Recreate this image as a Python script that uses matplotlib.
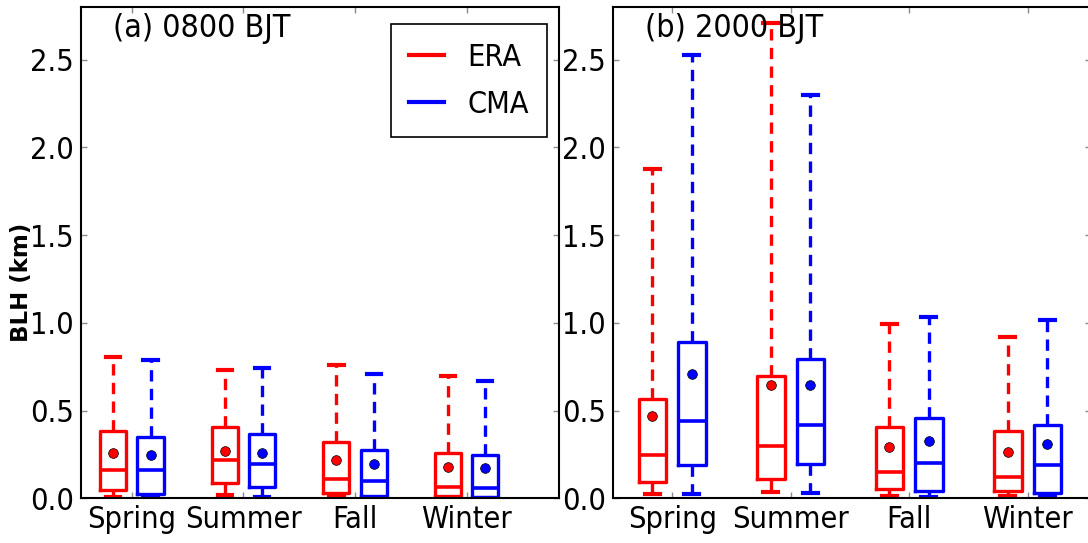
"""BLH box plots — ERA vs CMA by season, 0800 and 2000 BJT"""
import matplotlib
matplotlib.use("Agg")  # no display
import matplotlib.pyplot as plt
from matplotlib.lines import Line2D

plt.rcParams["font.family"] = ["DejaVu Sans"]
plt.rcParams["font.stretch"] = "condensed"

seasons = ["Spring", "Summer", "Fall", "Winter"]
sources = ["ERA", "CMA"]
panel_titles = ["(a) 0800 BJT", "(b) 2000 BJT"]

# per season: lower whisker, Q1, median, Q3, upper whisker, mean (km)
STAT_KEYS = ["whislo", "q1", "med", "q3", "whishi", "mean"]

era_0800 = [
    [0.010, 0.051, 0.162, 0.382, 0.805, 0.258],
    [0.017, 0.087, 0.217, 0.405, 0.730, 0.273],
    [0.010, 0.030, 0.112, 0.320, 0.760, 0.217],
    [0.005, 0.013, 0.068, 0.260, 0.700, 0.182],
]
cma_0800 = [
    [0.008, 0.027, 0.160, 0.353, 0.790, 0.245],
    [0.008, 0.064, 0.197, 0.369, 0.745, 0.258],
    [0.003, 0.012, 0.099, 0.279, 0.712, 0.197],
    [0.003, 0.008, 0.061, 0.249, 0.670, 0.175],
]
era_2000 = [
    [0.027, 0.093, 0.250, 0.568, 1.879, 0.472],
    [0.036, 0.112, 0.300, 0.700, 2.710, 0.644],
    [0.013, 0.055, 0.152, 0.405, 0.994, 0.292],
    [0.013, 0.042, 0.121, 0.383, 0.920, 0.267],
]
cma_2000 = [
    [0.027, 0.189, 0.439, 0.892, 2.527, 0.712],
    [0.032, 0.197, 0.420, 0.794, 2.300, 0.648],
    [0.010, 0.042, 0.203, 0.458, 1.036, 0.326],
    [0.010, 0.032, 0.189, 0.420, 1.017, 0.310],
]

COLORS = ["red", "blue"]


def make_stats(rows):
    return [dict(zip(STAT_KEYS, r)) for r in rows]


def draw_panel(ax, era_rows, cma_rows, title, xlim):
    for k, (rows, color) in enumerate(zip([era_rows, cma_rows], COLORS)):
        positions = [3 * i + 1 + k for i in range(len(seasons))]
        ax.bxp(
            make_stats(rows),
            positions=positions,
            widths=0.7,
            capwidths=0.38,
            showmeans=True,
            showfliers=False,
            manage_ticks=False,
            boxprops=dict(color=color, linewidth=2.4),
            whiskerprops=dict(color=color, linewidth=2.4, linestyle=(0, (3.4, 2.2))),
            capprops=dict(color=color, linewidth=3.0),
            medianprops=dict(color=color, linewidth=2.6),
            meanprops=dict(marker="o", markerfacecolor=color, markeredgecolor="k",
                           markeredgewidth=0.5, markersize=7),
        )

    ax.set_xticks([3 * i + 1.5 for i in range(len(seasons))])
    ax.set_xticklabels(seasons)
    ax.set_xlim(*xlim)
    ax.set_ylim(0, 2.8)
    ax.set_yticks([0.0, 0.5, 1.0, 1.5, 2.0, 2.5])
    ax.set_yticklabels(["0.0", "0.5", "1.0", "1.5", "2.0", "2.5"])
    ax.tick_params(direction="in", top=True, right=True, length=4, width=1,
                   color="0.55", labelsize=22, pad=5)
    for s in ax.spines.values():
        s.set_linewidth(1.5)
    ax.text(0.067, 0.988, title, transform=ax.transAxes, ha="left", va="top", fontsize=23)


fig = plt.figure(figsize=(10.88, 5.43), dpi=100)
ax_a = fig.add_axes([0.0744, 0.082, 0.4393, 0.905])
ax_b = fig.add_axes([0.5634, 0.082, 0.4393, 0.905])

draw_panel(ax_a, era_0800, cma_0800, panel_titles[0], (0.13, 12.98))
draw_panel(ax_b, era_2000, cma_2000, panel_titles[1], (0.0, 12.1))

ax_a.set_ylabel("BLH (km)", fontsize=16.5, fontweight="bold", fontstretch="normal")
ax_a.yaxis.set_label_coords(-0.1, 0.44)

handles = [Line2D([], [], color=c, linewidth=3) for c in COLORS]
leg = ax_a.legend(handles, sources, loc="upper right", bbox_to_anchor=(0.975, 0.965),
                  borderaxespad=0, fontsize=22, handlelength=1.15, handletextpad=0.75,
                  labelspacing=0.6, borderpad=0.6, fancybox=False, framealpha=1)
leg.get_frame().set_edgecolor("black")
leg.get_frame().set_linewidth(1.2)

fig.savefig("out.png", dpi=100)
